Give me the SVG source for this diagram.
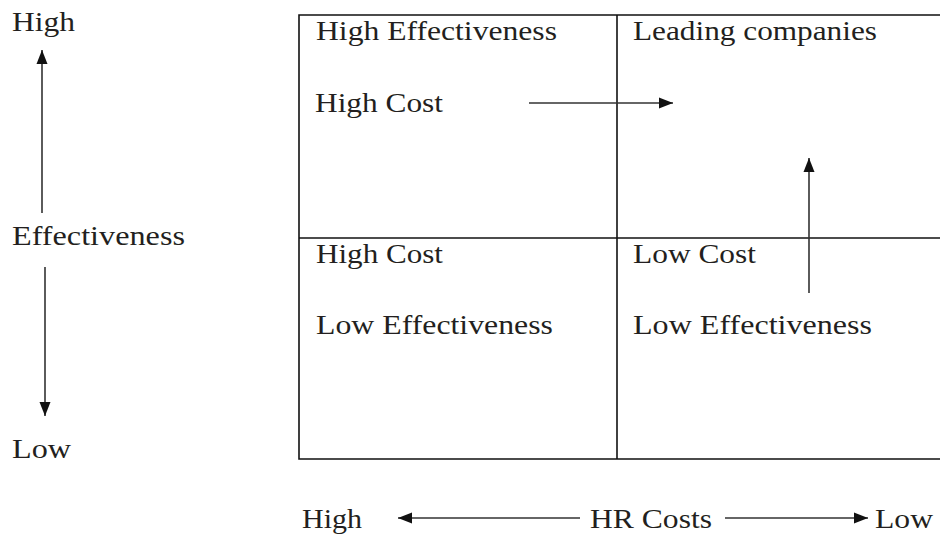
<svg xmlns="http://www.w3.org/2000/svg" width="940" height="535" viewBox="0 0 940 535">
  <style>
    .lbl { font-family: "Liberation Serif", "Times New Roman", serif; font-size: 27px; fill: #231f20; }
    .grid { stroke: #111; stroke-width: 1.6; fill: none; }
    .arr { stroke: #333; stroke-width: 1.6; fill: none; marker-end: url(#head); }
  </style>
  <defs>
    <marker id="head" markerUnits="userSpaceOnUse" markerWidth="16" markerHeight="12" refX="14" refY="6" orient="auto">
      <path d="M0,0.5 L14,6 L0,11.5 Z" fill="#111"/>
    </marker>
  </defs>
  <rect width="940" height="535" fill="#fff"/>

  <!-- quadrant grid -->
  <g id="grid">
    <path class="grid" d="M940,15 H299 V459 H940"/>
    <path class="grid" d="M617,15 V459"/>
    <path class="grid" d="M299,238 H940"/>
  </g>

  <!-- axis labels -->
  <g id="axis-effectiveness">
    <text class="lbl" x="12" y="31" textLength="63" lengthAdjust="spacingAndGlyphs">High</text>
    <text class="lbl" x="12" y="245" textLength="173" lengthAdjust="spacingAndGlyphs">Effectiveness</text>
    <text class="lbl" x="12" y="458" textLength="59" lengthAdjust="spacingAndGlyphs">Low</text>
  </g>
  <g id="axis-hr-costs">
    <text class="lbl" x="302" y="528" textLength="60" lengthAdjust="spacingAndGlyphs">High</text>
    <text class="lbl" x="590" y="528" textLength="122" lengthAdjust="spacingAndGlyphs">HR Costs</text>
    <text class="lbl" x="875" y="528" textLength="58" lengthAdjust="spacingAndGlyphs">Low</text>
  </g>

  <!-- quadrants -->
  <g id="q-top-left">
    <text class="lbl" x="316" y="40" textLength="241" lengthAdjust="spacingAndGlyphs">High Effectiveness</text>
    <text class="lbl" x="315" y="112" textLength="128" lengthAdjust="spacingAndGlyphs">High Cost</text>
  </g>
  <g id="q-top-right">
    <text class="lbl" x="633" y="40" textLength="244" lengthAdjust="spacingAndGlyphs">Leading companies</text>
  </g>
  <g id="q-bottom-left">
    <text class="lbl" x="316" y="263" textLength="127" lengthAdjust="spacingAndGlyphs">High Cost</text>
    <text class="lbl" x="316" y="334" textLength="237" lengthAdjust="spacingAndGlyphs">Low Effectiveness</text>
  </g>
  <g id="q-bottom-right">
    <text class="lbl" x="633" y="263" textLength="123" lengthAdjust="spacingAndGlyphs">Low Cost</text>
    <text class="lbl" x="633" y="334" textLength="239" lengthAdjust="spacingAndGlyphs">Low Effectiveness</text>
  </g>

  <!-- arrows -->
  <g id="connectors">
    <line class="arr" x1="42" y1="213" x2="42" y2="50"/>
    <line class="arr" x1="45" y1="267" x2="45" y2="416"/>
    <line class="arr" x1="529" y1="103" x2="673" y2="103"/>
    <line class="arr" x1="809" y1="293" x2="809" y2="158"/>
    <line class="arr" x1="580" y1="518" x2="398" y2="518"/>
    <line class="arr" x1="725" y1="518" x2="868" y2="518"/>
  </g>
</svg>
